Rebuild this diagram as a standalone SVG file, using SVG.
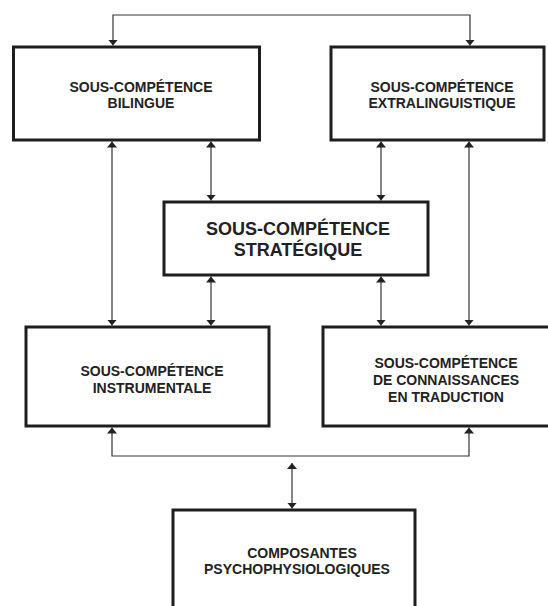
<svg xmlns="http://www.w3.org/2000/svg" width="548" height="606" viewBox="0 0 548 606">
<style>
.box{fill:#fff;stroke:#1e1e1e;stroke-width:3}
.t{font-family:"Liberation Sans",Arial,sans-serif;font-weight:bold;font-size:14px;fill:#222;text-anchor:middle}
.tl{font-size:18px}
.c{fill:none;stroke:#333;stroke-width:1.2;marker-start:url(#ah);marker-end:url(#ah)}
</style>
<defs>
<marker id="ah" markerUnits="userSpaceOnUse" markerWidth="7" markerHeight="10" refX="6" refY="5" orient="auto-start-reverse">
<path d="M0,0 L6,5 L0,10 z" fill="#222"/>
</marker>
</defs>
<rect width="548" height="606" fill="#fff"/>
<g id="n-bilingue">
<rect class="box" x="13.5" y="47" width="246" height="93"/>
<text class="t" x="141" y="92">SOUS-COMPÉTENCE</text>
<text class="t" x="141" y="108">BILINGUE</text>
</g>
<g id="n-extralinguistique">
<rect class="box" x="331" y="47" width="213" height="93"/>
<text class="t" x="442" y="92">SOUS-COMPÉTENCE</text>
<text class="t" x="442" y="108">EXTRALINGUISTIQUE</text>
</g>
<g id="n-strategique">
<rect class="box" x="164" y="202" width="264" height="73"/>
<text class="t tl" x="298" y="235">SOUS-COMPÉTENCE</text>
<text class="t tl" x="298" y="256">STRATÉGIQUE</text>
</g>
<g id="n-instrumentale">
<rect class="box" x="26" y="327" width="243" height="99"/>
<text class="t" x="152" y="376">SOUS-COMPÉTENCE</text>
<text class="t" x="152" y="393">INSTRUMENTALE</text>
</g>
<g id="n-connaissances">
<rect class="box" x="323" y="327" width="240" height="99"/>
<text class="t" x="446" y="368">SOUS-COMPÉTENCE</text>
<text class="t" x="446" y="385">DE CONNAISSANCES</text>
<text class="t" x="446" y="402">EN TRADUCTION</text>
</g>
<g id="n-psycho">
<rect class="box" x="173" y="510" width="242" height="110"/>
<text class="t" x="302" y="558">COMPOSANTES</text>
<text class="t" x="297" y="574">PSYCHOPHYSIOLOGIQUES</text>
</g>
<g id="connectors">
<path class="c" d="M113,45.5 V15 H470 V45.5"/>
<path class="c" d="M112,141.5 V325.5"/>
<path class="c" d="M211,141.5 V200.5"/>
<path class="c" d="M211,276.5 V325.5"/>
<path class="c" d="M381,141.5 V200.5"/>
<path class="c" d="M381,276.5 V325.5"/>
<path class="c" d="M469,141.5 V325.5"/>
<path class="c" d="M112,427.5 V456 H469 V427.5"/>
<path class="c" d="M292,463 V508.5"/>
</g>
</svg>
